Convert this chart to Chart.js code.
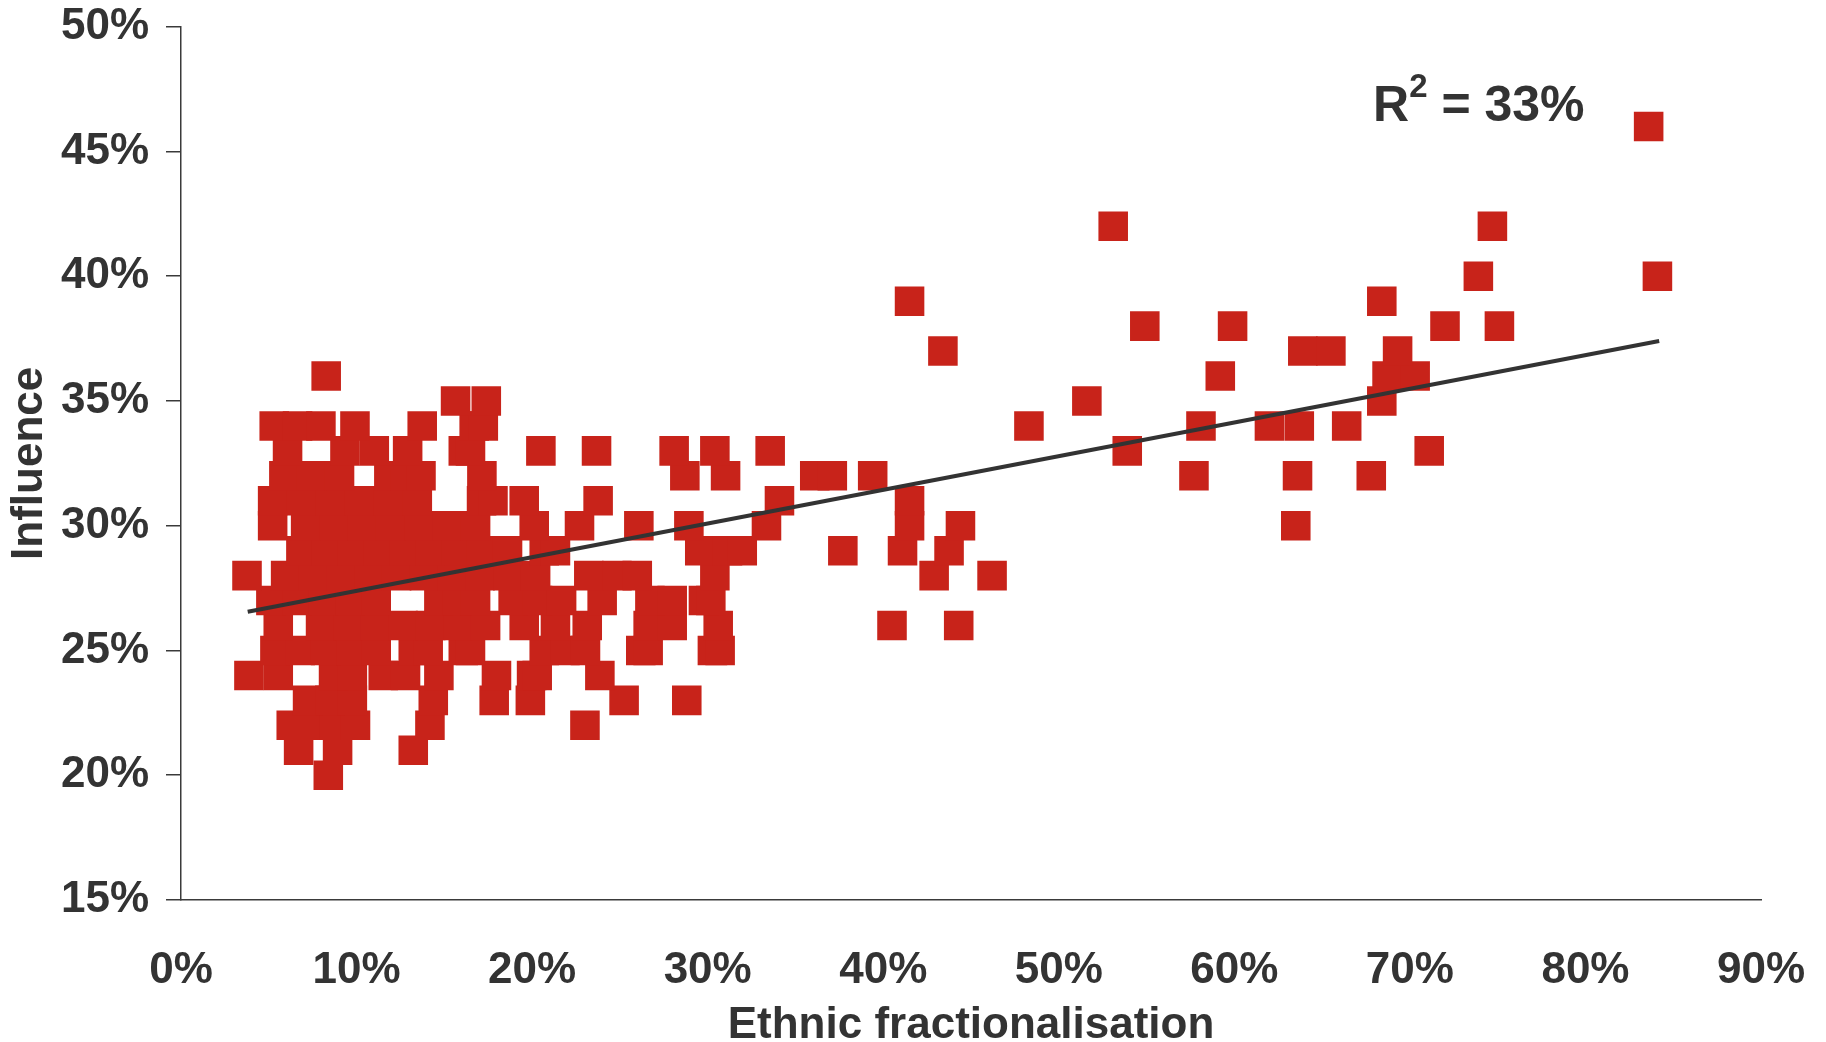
<!DOCTYPE html>
<html>
<head>
<meta charset="utf-8">
<title>Influence vs ethnic fractionalisation</title>
<script src="https://cdn.jsdelivr.net/npm/chart.js@4.4.0/dist/chart.umd.min.js"></script>
<style>
  html, body { margin: 0; padding: 0; background: #fff; }
  #wrap { width: 1826px; height: 1042px; }
</style>
</head>
<body>
<div id="wrap"><canvas id="scatterChart" width="1826" height="1042"></canvas></div>
<script>
// values, one line per influence level
const fractionalisation = [
    8.39,
    6.70, 8.92, 13.23,
    6.28, 7.50, 8.73, 9.94, 14.18, 23.01,
    7.21, 8.48, 9.76, 14.37, 17.84, 19.90, 25.24, 28.81,
    3.87, 5.54, 8.69, 9.76, 11.52, 12.79, 14.69, 17.97, 19.97, 20.29, 23.86,
    5.35, 6.79, 8.24, 9.68, 11.12, 13.23, 14.08, 16.08, 16.49, 20.69, 21.87, 23.04, 26.19, 26.61, 30.27, 30.71,
    5.54, 7.95, 9.52, 11.08, 12.65, 14.22, 15.78, 17.35, 19.55, 21.33, 23.14, 26.61, 27.98, 30.60, 40.5, 44.3,
    5.12, 6.62, 8.12, 9.62, 11.12, 14.69, 15.73, 16.78, 18.92, 20.31, 21.68, 23.99, 26.71, 27.98, 29.76, 30.18,
    3.76, 5.96, 7.53, 9.13, 10.70, 12.28, 13.87, 15.45, 17.03, 18.62, 20.20, 23.23, 24.83, 25.99, 30.41, 42.9, 46.2,
    6.83, 8.30, 9.77, 11.25, 12.72, 14.19, 15.66, 17.13, 18.60, 20.69, 21.33, 29.55, 31.13, 31.97, 37.7, 41.1, 43.75,
    5.22, 7.10, 8.71, 10.32, 11.94, 13.55, 15.17, 16.78, 20.12, 22.70, 26.08, 28.93, 33.35, 41.5, 44.4, 63.5,
    5.22, 6.87, 8.52, 10.17, 11.81, 13.46, 17.12, 17.77, 19.55, 23.76, 34.09, 41.5,
    5.86, 7.44, 9.03, 11.84, 12.75, 13.67, 17.14, 28.70, 31.02, 36.1, 37.1, 39.4, 57.7, 63.6, 67.8,
    6.07, 9.34, 11.01, 12.91, 16.08, 16.49, 20.50, 23.67, 28.09, 30.41, 33.56, 53.9, 71.1,
    5.31, 6.64, 7.97, 9.91, 13.74, 16.70, 17.22, 48.3, 58.1, 62.0, 63.7, 66.4,
    15.64, 17.39, 51.6, 68.4,
    8.27, 59.2, 68.7, 70.3,
    43.4, 63.9, 65.5, 69.3,
    54.9, 59.9, 72.0, 75.1,
    41.5, 68.4,
    73.9, 84.1,
    53.1, 74.7,
    83.6
];

const influence = [
    20,
    21, 21, 21,
    22, 22, 22, 22, 22, 22,
    23, 23, 23, 23, 23, 23, 23, 23,
    24, 24, 24, 24, 24, 24, 24, 24, 24, 24, 24,
    25, 25, 25, 25, 25, 25, 25, 25, 25, 25, 25, 25, 25, 25, 25, 25,
    26, 26, 26, 26, 26, 26, 26, 26, 26, 26, 26, 26, 26, 26, 26, 26,
    27, 27, 27, 27, 27, 27, 27, 27, 27, 27, 27, 27, 27, 27, 27, 27,
    28, 28, 28, 28, 28, 28, 28, 28, 28, 28, 28, 28, 28, 28, 28, 28, 28,
    29, 29, 29, 29, 29, 29, 29, 29, 29, 29, 29, 29, 29, 29, 29, 29, 29,
    30, 30, 30, 30, 30, 30, 30, 30, 30, 30, 30, 30, 30, 30, 30, 30,
    31, 31, 31, 31, 31, 31, 31, 31, 31, 31, 31, 31,
    32, 32, 32, 32, 32, 32, 32, 32, 32, 32, 32, 32, 32, 32, 32,
    33, 33, 33, 33, 33, 33, 33, 33, 33, 33, 33, 33, 33,
    34, 34, 34, 34, 34, 34, 34, 34, 34, 34, 34, 34,
    35, 35, 35, 35,
    36, 36, 36, 36,
    37, 37, 37, 37,
    38, 38, 38, 38,
    39, 39,
    40, 40,
    42, 42,
    46
];

// trend line ends
const trendX = [3.8, 84.2];
const trendY = [26.55, 37.4];

const xTickValues = [0, 10, 20, 30, 40, 50, 60, 70, 80, 90];
const yTickValues = [15, 20, 25, 30, 35, 40, 45, 50];

const rSquaredText = '33%';
const rSquaredAt = [67.9, 46.23];   // x, y of the label baseline in data units

const FONT = '"Liberation Sans", Arial, sans-serif';
const TEXT = '#333333';
const AXIS = '#3a3a3a';
const RED = '#c8231a';

Chart.defaults.font.family = FONT;

const points = fractionalisation.map((x, i) => ({ x: x, y: influence[i] }));
const trend = trendX.map((x, i) => ({ x: x, y: trendY[i] }));

const r2Label = {
    id: 'r2Label',
    afterDatasetsDraw(chart) {
        const ctx = chart.ctx;
        const px = chart.scales.x.getPixelForValue(rSquaredAt[0]);
        const py = chart.scales.y.getPixelForValue(rSquaredAt[1]);
        ctx.save();
        ctx.fillStyle = TEXT;
        ctx.textAlign = 'left';
        ctx.textBaseline = 'alphabetic';
        ctx.font = 'bold 50px ' + FONT;
        ctx.fillText('R', px, py);
        const wR = ctx.measureText('R').width;
        ctx.font = 'bold 33px ' + FONT;
        ctx.fillText('2', px + wR, py - 24);
        const w2 = ctx.measureText('2').width;
        ctx.font = 'bold 50px ' + FONT;
        ctx.fillText(' = ' + rSquaredText, px + wR + w2, py);
        ctx.restore();
    }
};

// drop the extra room chart.js keeps for edge labels, the layout padding sets the plot box
function noEdgePadding(s) {
    s.paddingTop = 0;
    s.paddingBottom = 0;
    s.paddingLeft = 0;
    s.paddingRight = 0;
}

const tickFont = { family: FONT, size: 44, weight: 'bold', lineHeight: 1 };

new Chart(document.getElementById('scatterChart').getContext('2d'), {
    type: 'scatter',
    data: {
        datasets: [
            {
                label: 'Trend',
                data: trend,
                showLine: true,
                borderColor: '#333333',
                borderWidth: 4,
                pointRadius: 0,
                fill: false,
                order: 0
            },
            {
                label: 'Countries',
                data: points,
                pointStyle: 'rect',
                pointRadius: 20.9,
                backgroundColor: RED,
                borderWidth: 0,
                order: 1
            }
        ]
    },
    options: {
        responsive: false,
        devicePixelRatio: 1,
        animation: false,
        events: [],
        layout: { autoPadding: false, padding: { top: 26.7, right: 65, bottom: 0, left: 0 } },
        plugins: {
            legend: { display: false },
            tooltip: { enabled: false }
        },
        scales: {
            x: {
                type: 'linear',
                position: 'bottom',
                min: 0,
                max: 90,
                afterBuildTicks: s => { s.ticks = xTickValues.map(v => ({ value: v })); },
                afterFit: s => { s.height = 142; noEdgePadding(s); },
                grid: { display: false, drawOnChartArea: false, drawTicks: false },
                border: { display: true, color: AXIS, width: 1.5 },
                ticks: {
                    padding: 49,
                    color: TEXT,
                    font: tickFont,
                    maxRotation: 0,
                    autoSkip: false,
                    callback: v => v + '%'
                },
                title: {
                    display: true,
                    text: 'Ethnic fractionalisation',
                    color: TEXT,
                    font: tickFont,
                    padding: { top: 0, bottom: -6 }
                }
            },
            y: {
                type: 'linear',
                min: 15,
                max: 50,
                afterBuildTicks: s => { s.ticks = yTickValues.map(v => ({ value: v })); },
                afterFit: s => { s.width = 181; noEdgePadding(s); },
                grid: {
                    display: true,
                    drawOnChartArea: false,
                    drawTicks: true,
                    tickLength: 15,
                    color: AXIS,
                    lineWidth: 1.5
                },
                border: { display: true, color: AXIS, width: 1.5 },
                ticks: {
                    padding: 17,
                    color: TEXT,
                    font: tickFont,
                    callback: v => v + '%'
                },
                title: {
                    display: true,
                    text: 'Influence',
                    color: TEXT,
                    font: tickFont,
                    padding: { top: 8, bottom: 0 }
                }
            }
        }
    },
    plugins: [r2Label]
});
</script>
</body>
</html>
